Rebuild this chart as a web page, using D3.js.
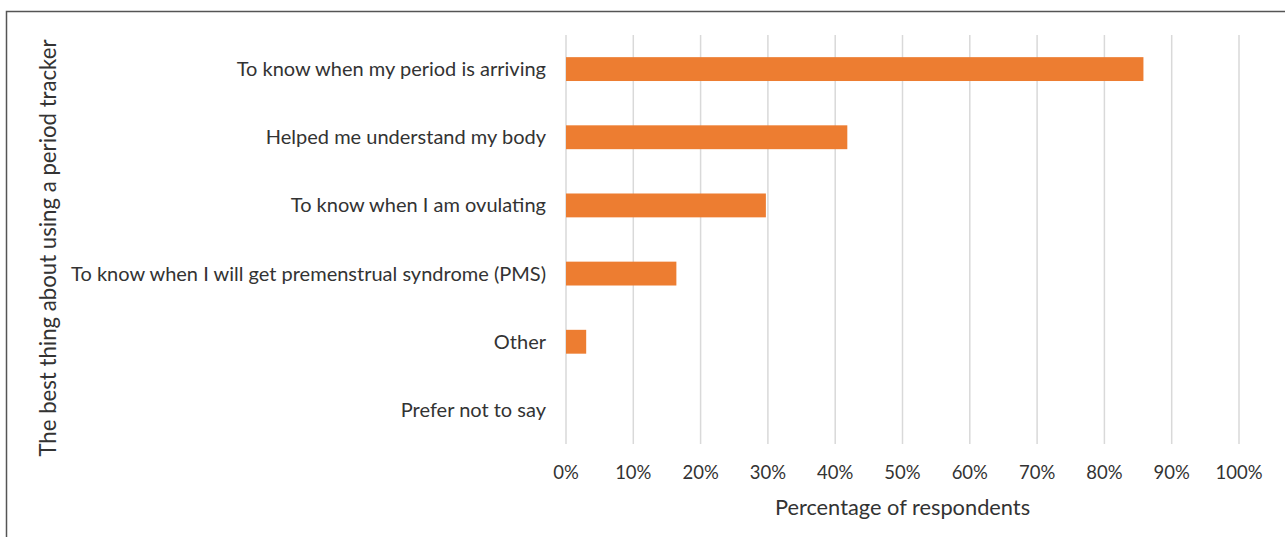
<!DOCTYPE html>
<html>
<head>
<meta charset="utf-8">
<script src="https://cdn.jsdelivr.net/npm/d3@7"></script>
<style>
  body { margin: 0; background: #fff; }
  svg text { font-family: Lato, "Open Sans", sans-serif; fill: #333; }
</style>
</head>
<body>
<svg id="chart" width="1285" height="537"></svg>
<script>
// DATA //
var categories = [
  'To know when my period is arriving',
  'Helped me understand my body',
  'To know when I am ovulating',
  'To know when I will get premenstrual syndrome (PMS)',
  'Other',
  'Prefer not to say'
];
var values = [85.8, 41.8, 29.7, 16.4, 3.0, 0];
var xTicks = [0, 10, 20, 30, 40, 50, 60, 70, 80, 90, 100];

var svg = d3.select('#chart');
var margin = { top: 35, left: 566, right: 46, bottom: 93 };
var width = 1285 - margin.left - margin.right,
    height = 537 - margin.top - margin.bottom;

// outer frame
svg.append('rect')
  .attr('x', 6.5).attr('y', 11.5)
  .attr('width', 1290).attr('height', 540)
  .attr('fill', 'none').attr('stroke', '#555').attr('stroke-width', 1.5);

var g = svg.append('g')
  .attr('transform', 'translate(' + margin.left + ',' + margin.top + ')');

var xScale = d3.scaleLinear().domain([0, 100]).range([0, width]);
var yScale = d3.scaleBand().domain(categories).range([0, height])
  .paddingInner(0.65).paddingOuter(0.325);

// gridlines
g.selectAll('.grid')
  .data(xTicks).enter().append('line')
  .attr('class', 'grid')
  .attr('x1', function(d) { return xScale(d); })
  .attr('x2', function(d) { return xScale(d); })
  .attr('y1', 0).attr('y2', height)
  .attr('stroke', '#d9d9d9').attr('stroke-width', 1.5);

// bars
g.selectAll('.bar')
  .data(values).enter().append('rect')
  .attr('class', 'bar')
  .attr('x', xScale(0))
  .attr('y', function(d, i) { return yScale(categories[i]); })
  .attr('width', function(d) { return xScale(d) - xScale(0); })
  .attr('height', yScale.bandwidth())
  .attr('fill', '#ed7d31');

// category labels
g.selectAll('.cat')
  .data(categories).enter().append('text')
  .attr('class', 'cat')
  .attr('x', -20)
  .attr('y', function(d) { return yScale(d) + yScale.bandwidth() / 2; })
  .attr('dy', '0.35em')
  .attr('text-anchor', 'end')
  .style('font-size', '20px')
  .text(function(d) { return d; });

// x tick labels
g.selectAll('.xtick')
  .data(xTicks).enter().append('text')
  .attr('class', 'xtick')
  .attr('x', function(d) { return xScale(d); })
  .attr('y', height + 29)
  .attr('dy', '0.35em')
  .attr('text-anchor', 'middle')
  .style('font-size', '18.5px')
  .text(function(d) { return d + '%'; });

// axis titles
svg.append('text')
  .attr('x', margin.left + width / 2).attr('y', 507)
  .attr('dy', '0.35em')
  .attr('text-anchor', 'middle')
  .style('font-size', '21.8px')
  .text('Percentage of respondents');

svg.append('text')
  .attr('transform', 'translate(48,248) rotate(-90)')
  .attr('dy', '0.35em')
  .attr('text-anchor', 'middle')
  .style('font-size', '22.2px')
  .text('The best thing about using a period tracker');
</script>
</body>
</html>
